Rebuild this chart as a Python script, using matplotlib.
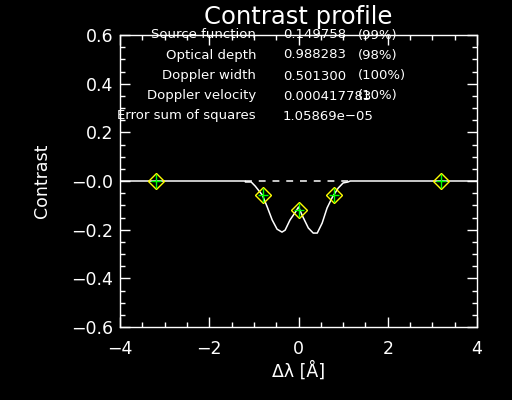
import matplotlib
matplotlib.use("Agg")
import matplotlib.pyplot as plt

# ---- data ----
curve_x = [-4.0, -1.2, -1.19, -1.06, -0.97, -0.81, -0.70, -0.59, -0.48, -0.37, -0.30,
           -0.19, -0.07, 0.0, 0.10, 0.22, 0.33, 0.42, 0.53, 0.64, 0.76, 0.89, 1.0,
           1.11, 1.16, 4.0]
curve_y = [0.0, 0.0, -0.004, -0.004, -0.021, -0.058, -0.107, -0.160, -0.198, -0.210,
           -0.202, -0.160, -0.128, -0.107, -0.148, -0.193, -0.214, -0.214, -0.173,
           -0.111, -0.066, -0.029, -0.008, -0.004, 0.0, 0.0]
ref_x = [-1.2, 1.2]
ref_y = [0.0, 0.0]
obs_x = [-3.2, -0.8, 0.0, 0.8, 3.2]
obs_y = [0.0, -0.057, -0.121, -0.057, 0.0]

x_ticks = [-4, -2, 0, 2, 4]
x_tick_labels = ["\u22124", "\u22122", "0", "2", "4"]
y_ticks = [-0.6, -0.4, -0.2, 0.0, 0.2, 0.4, 0.6]
y_tick_labels = ["\u22120.6", "\u22120.4", "\u22120.2", "\u22120.0", "0.2", "0.4", "0.6"]

param_names = ["Source function", "Optical depth", "Doppler width",
               "Doppler velocity", "Error sum of squares"]
param_values = ["0.149758", "0.988283", "0.501300", "0.000417783", "1.05869e\u221205"]
param_pcts = ["(99%)", "(98%)", "(100%)", "(10%)", ""]

title = "Contrast profile"
xlabel = "\u0394\u03bb [\u00c5]"
ylabel = "Contrast"

# ---- figure ----
W, H = 512, 400
fig = plt.figure(figsize=(W / 100, H / 100), dpi=100, facecolor="black")
ax = fig.add_axes([120 / W, 1 - 327 / H, 357 / W, 292 / H], facecolor="black")

ax.plot(curve_x, curve_y, color="white", lw=1.1, zorder=3)
ax.plot(ref_x, ref_y, color="white", lw=1.1, linestyle=(0, (4.5, 4.5)), zorder=3)
ax.plot(obs_x, obs_y, linestyle="none", marker="D", markersize=8.5,
        markerfacecolor="none", markeredgecolor="yellow", markeredgewidth=1.0, zorder=4)
ax.plot(obs_x, obs_y, linestyle="none", marker="|", markersize=10,
        color="#00ff00", markeredgewidth=1.0, zorder=5)
ax.plot(obs_x, obs_y, linestyle="none", marker="_", markersize=7,
        color="#00ff00", markeredgewidth=1.0, zorder=5)

ax.set_xlim(-4, 4)
ax.set_ylim(-0.6, 0.6)
ax.set_xticks(x_ticks)
ax.set_xticklabels(x_tick_labels)
ax.set_yticks(y_ticks)
ax.set_yticklabels(y_tick_labels)
ax.set_xticks([v / 2 for v in range(-8, 9)], minor=True)
ax.set_yticks([v / 20 for v in range(-12, 13)], minor=True)

for s in ax.spines.values():
    s.set_color("white")
    s.set_linewidth(1.0)
ax.tick_params(which="both", direction="in", colors="white", top=True, right=True,
               width=1.0)
ax.tick_params(which="major", length=7.2, labelsize=12.5)
ax.tick_params(which="minor", length=3.6)
ax.tick_params(axis="x", which="major", pad=9)
ax.tick_params(axis="y", which="major", pad=5)

ax.set_xlabel(xlabel, color="white", fontsize=12.5, labelpad=3)
ax.set_ylabel(ylabel, color="white", fontsize=12.5, labelpad=14)

fig.text(298 / W, 1 - 24 / H, title, color="white", fontsize=17.5,
         ha="center", va="baseline")

row_y = [35, 55, 76, 96, 116]
for name, val, pct, ry in zip(param_names, param_values, param_pcts, row_y):
    yf = 1 - ry / H
    fig.text(256 / W, yf, name, color="white", fontsize=9.5, ha="right", va="center")
    fig.text(283 / W, yf, val, color="white", fontsize=9.5, ha="left", va="center")
    if pct:
        fig.text(358 / W, yf, pct, color="white", fontsize=9.5, ha="left", va="center")

fig.savefig("out.png", dpi=100, facecolor="black")
